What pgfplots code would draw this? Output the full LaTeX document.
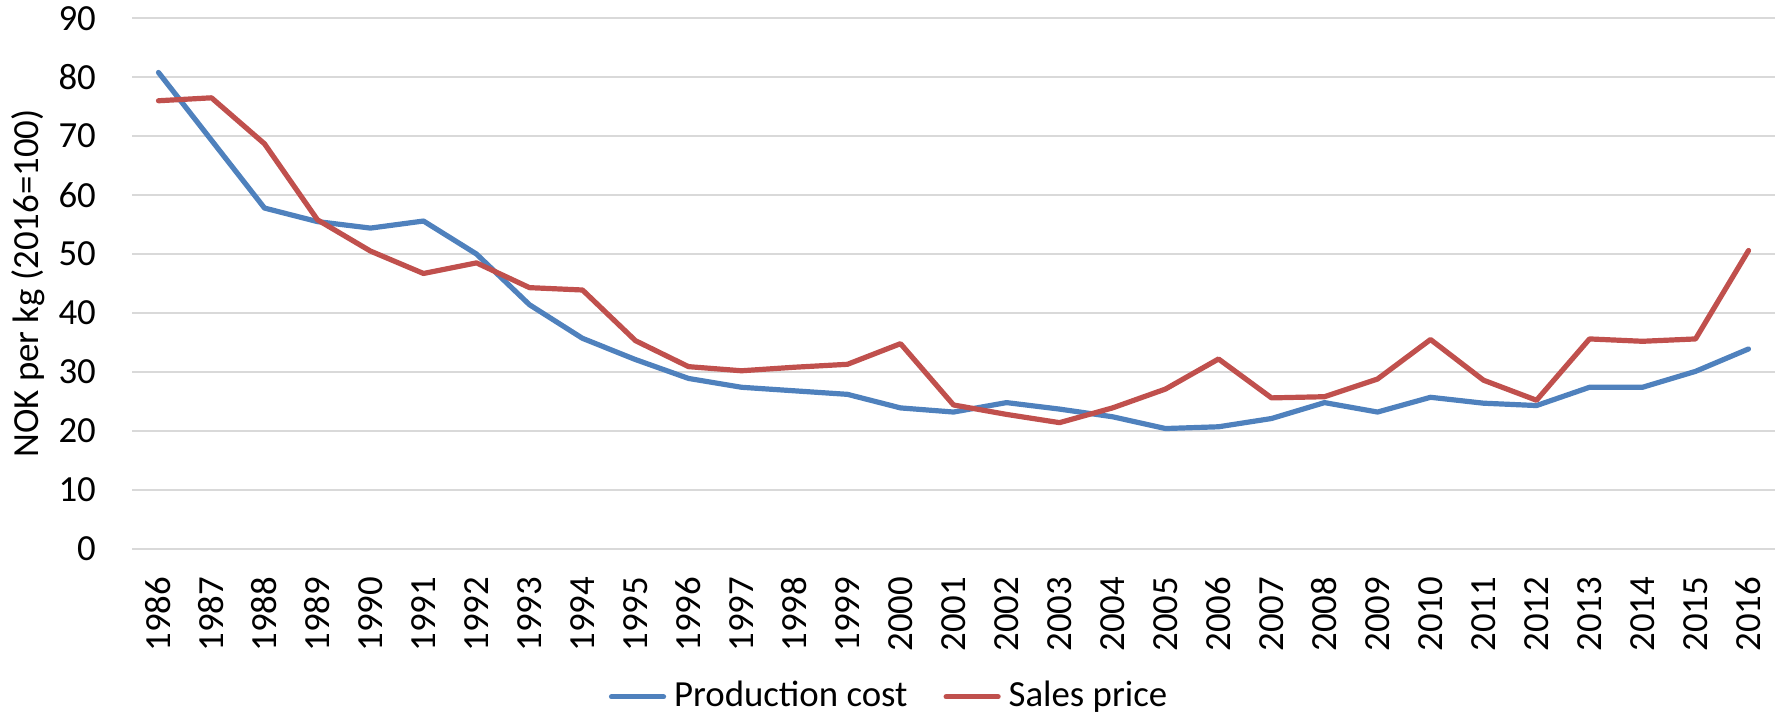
\documentclass[border=0pt]{standalone}
\usepackage{fontspec}
\setmainfont{Carlito}
\usepackage{pgfplots}
\pgfplotsset{compat=1.18}
\usepackage{pgfplotstable}
\definecolor{xlblue}{HTML}{4F81BD}
\definecolor{xlred}{HTML}{C0504D}
\definecolor{xlgrid}{HTML}{D9D9D9}
\pgfplotstableread{
year cost price
1986 80.8 76.0
1987 69.3 76.5
1988 57.8 68.7
1989 55.5 55.8
1990 54.4 50.5
1991 55.6 46.7
1992 50.0 48.5
1993 41.4 44.3
1994 35.7 43.9
1995 32.1 35.3
1996 28.9 30.9
1997 27.4 30.2
1998 26.8 30.8
1999 26.2 31.3
2000 23.9 34.8
2001 23.2 24.4
2002 24.8 22.8
2003 23.7 21.4
2004 22.4 23.9
2005 20.4 27.1
2006 20.7 32.2
2007 22.1 25.6
2008 24.8 25.8
2009 23.2 28.8
2010 25.7 35.5
2011 24.7 28.6
2012 24.3 25.2
2013 27.4 35.6
2014 27.4 35.2
2015 30.1 35.6
2016 33.9 50.6
}\datatable
\begin{document}
\begin{tikzpicture}
\begin{axis}[
  scale only axis,
  width=410.75pt, height=132.65pt,
  xmin=1985.5, xmax=2016.5,
  ymin=0, ymax=90,
  ytick={0,10,...,90},
  xtick={1986,1987,...,2016},
  font=\fontsize{9.2}{11}\selectfont,
  /pgf/number format/.cd, 1000 sep={}, assume math mode=true, /pgfplots/.cd,
  axis line style={draw=none},
  major tick length=0pt,
  tick style={draw=none},
  ymajorgrids,
  grid style={xlgrid, line width=0.55pt},
  xticklabel style={rotate=90, anchor=east},
  xticklabel shift=3.5pt,
  yticklabel shift=5.5pt,
  ylabel={NOK per kg (2016=100)},
  every axis y label/.style={at={(axis description cs:-0.0633,0.5)}, rotate=90, anchor=center},
  legend columns=2,
  legend style={at={(axis description cs:0.4626,-0.279)}, anchor=center, draw=none,
    font=\fontsize{9.2}{11}\selectfont, /tikz/every even column/.append style={column sep=7pt}},
  legend image code/.code={\draw[#1] (0pt,0pt) -- (13pt,0pt);},
]
\addplot[xlblue, line width=1.3pt, line cap=round, line join=round] table[x=year, y=cost] {\datatable};
\addlegendentry{Production cost}
\addplot[xlred, line width=1.3pt, line cap=round, line join=round] table[x=year, y=price] {\datatable};
\addlegendentry{Sales price}
\end{axis}
\pgfresetboundingbox
\useasboundingbox (-33pt,-42.55pt) rectangle (413.25pt,137.2pt);
\end{tikzpicture}
\end{document}
